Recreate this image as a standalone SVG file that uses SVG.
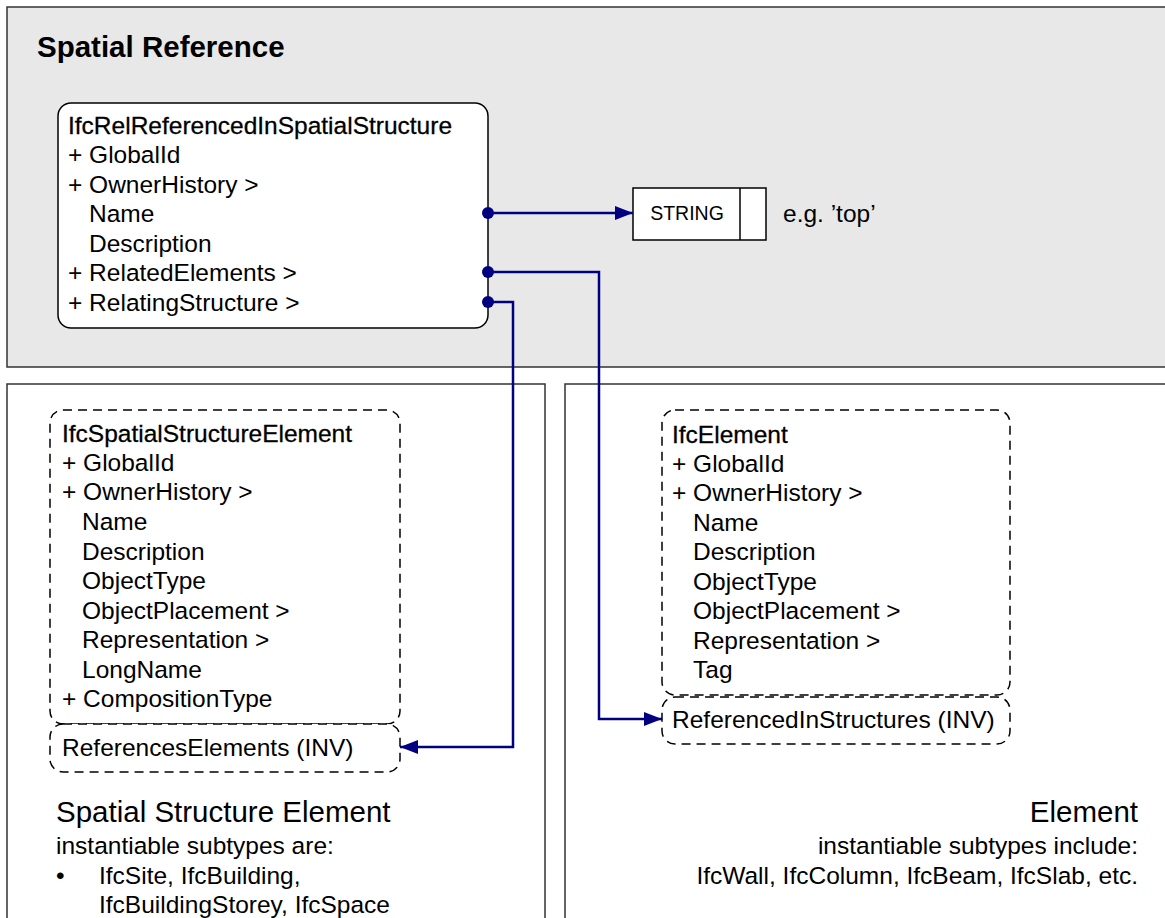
<svg xmlns="http://www.w3.org/2000/svg" width="1165" height="918" viewBox="0 0 1165 918">
  <style>
    text { font-family: "Liberation Sans", Arial, sans-serif; fill: #000; }
    .attr { font-size: 24.5px; }
    .title { font-size: 24.5px; stroke: #000; stroke-width: 0.3px; }
    .caption { font-size: 29.5px; }
    .panel { stroke: #333; stroke-width: 1.5; }
    .entity { fill: #fff; stroke: #000; stroke-width: 1.5; }
    .dashed { fill: #fff; stroke: #000; stroke-width: 1.5; stroke-dasharray: 9 6; }
    .conn { fill: none; stroke: #000080; stroke-width: 2.5; }
    .dot { fill: #000080; }
  </style>
  <defs>
    <marker id="arrow" markerWidth="18" markerHeight="14" refX="18" refY="7" orient="auto" markerUnits="userSpaceOnUse">
      <path d="M0,0 L18,7 L0,14 Z" fill="#000080"/>
    </marker>
  </defs>

  <rect width="1165" height="918" fill="#fff"/>

  <!-- panels -->
  <g id="panel-spatial-reference">
    <rect class="panel" x="7" y="7" width="1170" height="360" fill="#e8e8e8"/>
    <text x="37" y="57" font-size="29.5" font-weight="bold">Spatial Reference</text>
  </g>
  <g id="panel-spatial-structure">
    <rect class="panel" x="7" y="384" width="538" height="550" fill="#fff"/>
    <text x="56" y="822" class="caption">Spatial Structure Element</text>
    <text x="56" y="854" class="attr">instantiable subtypes are:</text>
    <text x="56" y="884" class="attr">•</text>
    <text x="99" y="884" class="attr">IfcSite, IfcBuilding,</text>
    <text x="99" y="913" class="attr">IfcBuildingStorey, IfcSpace</text>
  </g>
  <g id="panel-element">
    <rect class="panel" x="565" y="384" width="620" height="550" fill="#fff"/>
    <text x="1138" y="822" class="caption" text-anchor="end">Element</text>
    <text x="1138" y="854" class="attr" text-anchor="end">instantiable subtypes include:</text>
    <text x="1138" y="884" class="attr" text-anchor="end">IfcWall, IfcColumn, IfcBeam, IfcSlab, etc.</text>
  </g>

  <!-- relationship entity -->
  <g id="node-rel">
    <rect class="entity" x="58" y="103" width="430" height="225" rx="13"/>
    <text x="68" y="134" class="title">IfcRelReferencedInSpatialStructure</text>
    <text x="68" y="163" class="attr">+ GlobalId</text>
    <text x="68" y="193" class="attr">+ OwnerHistory &gt;</text>
    <text x="89" y="222" class="attr">Name</text>
    <text x="89" y="252" class="attr">Description</text>
    <text x="68" y="281" class="attr">+ RelatedElements &gt;</text>
    <text x="68" y="311" class="attr">+ RelatingStructure &gt;</text>
  </g>

  <!-- STRING type -->
  <g id="node-string">
    <rect x="633" y="188" width="133" height="52" fill="#fff" stroke="#000" stroke-width="1.5"/>
    <line x1="740" y1="188" x2="740" y2="240" stroke="#000" stroke-width="1.5"/>
    <text x="687" y="220" font-size="19.5" text-anchor="middle">STRING</text>
    <text x="783" y="222" class="attr">e.g. ’top’</text>
  </g>

  <!-- spatial structure element -->
  <g id="node-spatial-structure-element">
    <rect class="dashed" x="50" y="410" width="350" height="314" rx="13"/>
    <rect class="dashed" x="50" y="724" width="350" height="48" rx="13"/>
    <text x="62" y="442" class="title">IfcSpatialStructureElement</text>
    <text x="62" y="471" class="attr">+ GlobalId</text>
    <text x="62" y="500" class="attr">+ OwnerHistory &gt;</text>
    <text x="82" y="530" class="attr">Name</text>
    <text x="82" y="560" class="attr">Description</text>
    <text x="82" y="589" class="attr">ObjectType</text>
    <text x="82" y="619" class="attr">ObjectPlacement &gt;</text>
    <text x="82" y="648" class="attr">Representation &gt;</text>
    <text x="82" y="678" class="attr">LongName</text>
    <text x="62" y="707" class="attr">+ CompositionType</text>
    <text x="62" y="756" class="attr">ReferencesElements (INV)</text>
  </g>

  <!-- element -->
  <g id="node-element">
    <rect class="dashed" x="662" y="410" width="348" height="285" rx="13"/>
    <rect class="dashed" x="662" y="697" width="348" height="47" rx="13"/>
    <text x="672" y="443" class="title">IfcElement</text>
    <text x="672" y="472" class="attr">+ GlobalId</text>
    <text x="672" y="501" class="attr">+ OwnerHistory &gt;</text>
    <text x="693" y="531" class="attr">Name</text>
    <text x="693" y="560" class="attr">Description</text>
    <text x="693" y="590" class="attr">ObjectType</text>
    <text x="693" y="619" class="attr">ObjectPlacement &gt;</text>
    <text x="693" y="649" class="attr">Representation &gt;</text>
    <text x="693" y="678" class="attr">Tag</text>
    <text x="672" y="728" class="attr">ReferencedInStructures (INV)</text>
  </g>

  <!-- connectors -->
  <g id="connectors">
    <path class="conn" d="M488,213 H633" marker-end="url(#arrow)"/>
    <path class="conn" d="M488,272 H599 V719 H662" marker-end="url(#arrow)"/>
    <path class="conn" d="M488,302 H513 V747 H400" marker-end="url(#arrow)"/>
    <circle class="dot" cx="488" cy="213" r="6"/>
    <circle class="dot" cx="488" cy="272" r="6"/>
    <circle class="dot" cx="488" cy="302" r="6"/>
  </g>
</svg>
